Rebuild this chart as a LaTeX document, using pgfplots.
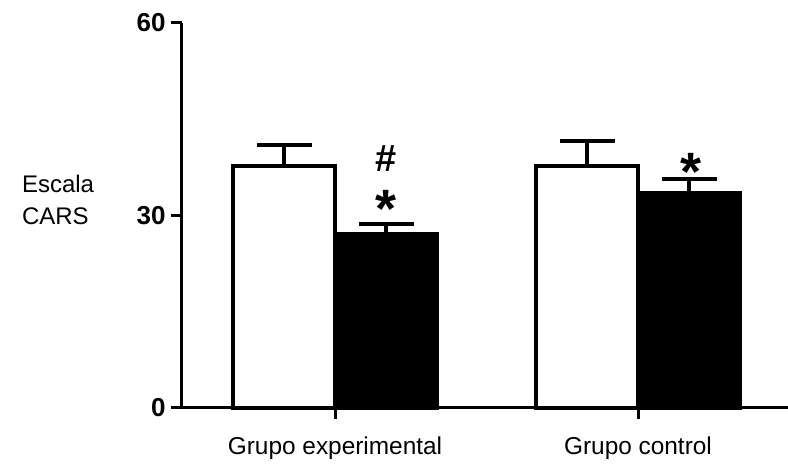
\documentclass[border=0pt]{standalone}
\usepackage{pgfplots}
\usepackage{pgfplotstable}
\pgfplotsset{compat=1.18}
\usepackage{fontspec}
\setmainfont{Liberation Sans}
\pgfplotstableread{
x y e
0 37.7 3.3
1 37.7 3.9
}\tblwhite
\pgfplotstableread{
x y e
0 27.1 1.6
1 33.5 2.2
}\tblblack
\begin{document}
\begin{tikzpicture}
\useasboundingbox (-91pt,-31.5pt) rectangle (303pt,204pt);
\begin{axis}[
  at={(0,0)}, anchor=south west,
  scale only axis, width=303pt, height=192.5pt,
  xmin=-0.505, xmax=1.495, ymin=0, ymax=60,
  axis x line=bottom, axis y line=left,
  axis line style={-, line width=1.5pt, black},
  ybar=0pt, bar width=51pt,
  xtick={0,1}, xticklabels={Grupo experimental, Grupo control},
  ytick={0,30,60},
  tick align=outside, major tick length=5.5pt,
  tick style={line width=1.5pt, black},
  /pgf/number format/assume math mode=true,
  yticklabel style={font=\bfseries\fontsize{13}{15}\selectfont, inner sep=0pt, xshift=-2.5pt},
  xticklabel style={font=\fontsize{12.2}{14}\selectfont, inner sep=0pt, yshift=-8.5pt},
  ylabel={Escala\\CARS},
  every axis y label/.style={at={(rel axis cs:0,0.5416)}, anchor=west, align=left, xshift=-83.5pt, font=\fontsize{12}{16}\selectfont},
  clip=false,
]
\addplot[fill=white, draw=black, line width=1.75pt,
  error bars/.cd, y dir=plus, y explicit,
  error bar style={line width=1.75pt, black},
  error mark options={rotate=90, mark size=13.75pt, line width=1.75pt, black}]
  table[x=x, y=y, y error=e]{\tblwhite};
\addplot[fill=black, draw=black, line width=1.75pt,
  error bars/.cd, y dir=plus, y explicit,
  error bar style={line width=1.75pt, black},
  error mark options={rotate=90, mark size=13.75pt, line width=1.75pt, black}]
  table[x=x, y=y, y error=e]{\tblblack};
\node[font=\bfseries\fontsize{19}{21}\selectfont, inner sep=0pt] at (axis cs:0.168,38.8) {\#};
\node[font=\bfseries\fontsize{27}{29}\selectfont, inner sep=0pt, yshift=-5pt] at (axis cs:0.168,32.6) {*};
\node[font=\bfseries\fontsize{27}{29}\selectfont, inner sep=0pt, yshift=-5pt] at (axis cs:1.175,38.3) {*};
\end{axis}
\end{tikzpicture}
\end{document}
